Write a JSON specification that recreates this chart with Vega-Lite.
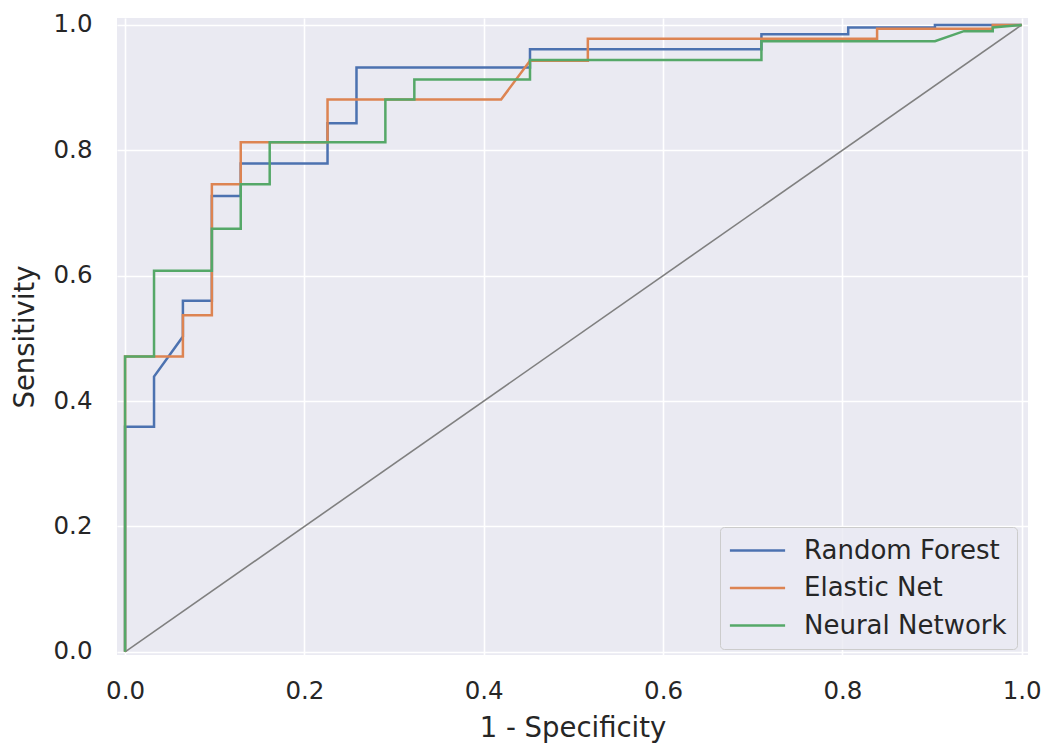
{
  "$schema": "https://vega.github.io/schema/vega-lite/v6.json",
  "autosize": {"type": "none"},
  "padding": {"left": 117, "top": 18, "right": 18, "bottom": 90},
  "width": 911,
  "height": 637,
  "background": "white",
  "config": {
    "view": {"fill": "#eaeaf2", "stroke": null},
    "font": "DejaVu Sans",
    "axis": {
      "domain": false,
      "ticks": false,
      "tickSize": 0,
      "grid": true,
      "gridColor": "white",
      "gridWidth": 1.6,
      "labelFont": "DejaVu Sans",
      "labelFontSize": 24.5,
      "labelColor": "#262626",
      "titleFont": "DejaVu Sans",
      "titleFontSize": 27.5,
      "titleFontWeight": "normal",
      "titleColor": "#262626"
    }
  },
  "datasets": {
    "diag": [{"x": 0, "y": 0}, {"x": 1, "y": 1}],
    "roc": [
      {"model": "Random Forest", "i": 0, "x": 0, "y": 0},
      {"model": "Random Forest", "i": 1, "x": 0, "y": 0.359},
      {"model": "Random Forest", "i": 2, "x": 0.0323, "y": 0.359},
      {"model": "Random Forest", "i": 3, "x": 0.0323, "y": 0.439},
      {"model": "Random Forest", "i": 4, "x": 0.0645, "y": 0.503},
      {"model": "Random Forest", "i": 5, "x": 0.0645, "y": 0.56},
      {"model": "Random Forest", "i": 6, "x": 0.0968, "y": 0.56},
      {"model": "Random Forest", "i": 7, "x": 0.0968, "y": 0.727},
      {"model": "Random Forest", "i": 8, "x": 0.129, "y": 0.727},
      {"model": "Random Forest", "i": 9, "x": 0.129, "y": 0.779},
      {"model": "Random Forest", "i": 10, "x": 0.2258, "y": 0.779},
      {"model": "Random Forest", "i": 11, "x": 0.2258, "y": 0.843},
      {"model": "Random Forest", "i": 12, "x": 0.2581, "y": 0.843},
      {"model": "Random Forest", "i": 13, "x": 0.2581, "y": 0.932},
      {"model": "Random Forest", "i": 14, "x": 0.4516, "y": 0.932},
      {"model": "Random Forest", "i": 15, "x": 0.4516, "y": 0.961},
      {"model": "Random Forest", "i": 16, "x": 0.7097, "y": 0.961},
      {"model": "Random Forest", "i": 17, "x": 0.7097, "y": 0.985},
      {"model": "Random Forest", "i": 18, "x": 0.8065, "y": 0.985},
      {"model": "Random Forest", "i": 19, "x": 0.8065, "y": 0.996},
      {"model": "Random Forest", "i": 20, "x": 0.9032, "y": 0.996},
      {"model": "Random Forest", "i": 21, "x": 0.9032, "y": 1},
      {"model": "Random Forest", "i": 22, "x": 1, "y": 1},
      {"model": "Elastic Net", "i": 0, "x": 0, "y": 0},
      {"model": "Elastic Net", "i": 1, "x": 0, "y": 0.471},
      {"model": "Elastic Net", "i": 2, "x": 0.0645, "y": 0.471},
      {"model": "Elastic Net", "i": 3, "x": 0.0645, "y": 0.537},
      {"model": "Elastic Net", "i": 4, "x": 0.0968, "y": 0.537},
      {"model": "Elastic Net", "i": 5, "x": 0.0968, "y": 0.746},
      {"model": "Elastic Net", "i": 6, "x": 0.129, "y": 0.746},
      {"model": "Elastic Net", "i": 7, "x": 0.129, "y": 0.813},
      {"model": "Elastic Net", "i": 8, "x": 0.2258, "y": 0.813},
      {"model": "Elastic Net", "i": 9, "x": 0.2258, "y": 0.881},
      {"model": "Elastic Net", "i": 10, "x": 0.4194, "y": 0.881},
      {"model": "Elastic Net", "i": 11, "x": 0.4516, "y": 0.943},
      {"model": "Elastic Net", "i": 12, "x": 0.5161, "y": 0.943},
      {"model": "Elastic Net", "i": 13, "x": 0.5161, "y": 0.978},
      {"model": "Elastic Net", "i": 14, "x": 0.8387, "y": 0.978},
      {"model": "Elastic Net", "i": 15, "x": 0.8387, "y": 0.994},
      {"model": "Elastic Net", "i": 16, "x": 0.9677, "y": 0.994},
      {"model": "Elastic Net", "i": 17, "x": 0.9677, "y": 1},
      {"model": "Elastic Net", "i": 18, "x": 1, "y": 1},
      {"model": "Neural Network", "i": 0, "x": 0, "y": 0},
      {"model": "Neural Network", "i": 1, "x": 0, "y": 0.471},
      {"model": "Neural Network", "i": 2, "x": 0.0323, "y": 0.471},
      {"model": "Neural Network", "i": 3, "x": 0.0323, "y": 0.608},
      {"model": "Neural Network", "i": 4, "x": 0.0968, "y": 0.608},
      {"model": "Neural Network", "i": 5, "x": 0.0968, "y": 0.675},
      {"model": "Neural Network", "i": 6, "x": 0.129, "y": 0.675},
      {"model": "Neural Network", "i": 7, "x": 0.129, "y": 0.746},
      {"model": "Neural Network", "i": 8, "x": 0.1613, "y": 0.746},
      {"model": "Neural Network", "i": 9, "x": 0.1613, "y": 0.813},
      {"model": "Neural Network", "i": 10, "x": 0.2903, "y": 0.813},
      {"model": "Neural Network", "i": 11, "x": 0.2903, "y": 0.881},
      {"model": "Neural Network", "i": 12, "x": 0.3226, "y": 0.881},
      {"model": "Neural Network", "i": 13, "x": 0.3226, "y": 0.913},
      {"model": "Neural Network", "i": 14, "x": 0.4516, "y": 0.913},
      {"model": "Neural Network", "i": 15, "x": 0.4516, "y": 0.944},
      {"model": "Neural Network", "i": 16, "x": 0.7097, "y": 0.944},
      {"model": "Neural Network", "i": 17, "x": 0.7097, "y": 0.974},
      {"model": "Neural Network", "i": 18, "x": 0.9032, "y": 0.974},
      {"model": "Neural Network", "i": 19, "x": 0.9355, "y": 0.99},
      {"model": "Neural Network", "i": 20, "x": 0.9677, "y": 0.99},
      {"model": "Neural Network", "i": 21, "x": 0.9677, "y": 0.996},
      {"model": "Neural Network", "i": 22, "x": 1, "y": 1}
    ]
  },
  "layer": [
    {
      "data": {"name": "diag"},
      "mark": {"type": "line", "color": "#808080", "strokeWidth": 1.6, "clip": true},
      "encoding": {
        "x": {"field": "x", "type": "quantitative", "scale": {"domain": [-0.009, 1.007], "nice": false, "zero": false},
              "axis": {"title": "1 - Specificity", "values": [0, 0.2, 0.4, 0.6, 0.8, 1.0], "format": ".1f", "labelPadding": 24, "titlePadding": 12}},
        "y": {"field": "y", "type": "quantitative", "scale": {"domain": [-0.005, 1.011], "nice": false, "zero": false},
              "axis": {"title": "Sensitivity", "values": [0, 0.2, 0.4, 0.6, 0.8, 1.0], "format": ".1f", "labelPadding": 25, "titlePadding": 14}}
      }
    },
    {
      "data": {"name": "roc"},
      "mark": {"type": "line", "strokeWidth": 2.5, "clip": true},
      "encoding": {
        "x": {"field": "x", "type": "quantitative"},
        "y": {"field": "y", "type": "quantitative"},
        "order": {"field": "i", "type": "quantitative"},
        "color": {
          "field": "model",
          "type": "nominal",
          "scale": {"domain": ["Random Forest", "Elastic Net", "Neural Network"], "range": ["#4c72b0", "#dd8452", "#55a868"]},
          "legend": {
            "title": null,
            "orient": "none",
            "legendX": 603,
            "legendY": 509,
            "padding": 10,
            "fillColor": "rgba(234,234,242,0.8)",
            "strokeColor": "#cccccc",
            "cornerRadius": 4,
            "symbolType": "M-2.3,0H2.3",
            "symbolSize": 576,
            "symbolStrokeWidth": 2.5,
            "symbolOffset": 14,
            "labelOffset": 33,
            "labelFont": "DejaVu Sans",
            "labelFontSize": 26,
            "labelColor": "#262626",
            "rowPadding": 10.5,
            "labelLimit": 400
          }
        }
      }
    }
  ]
}
